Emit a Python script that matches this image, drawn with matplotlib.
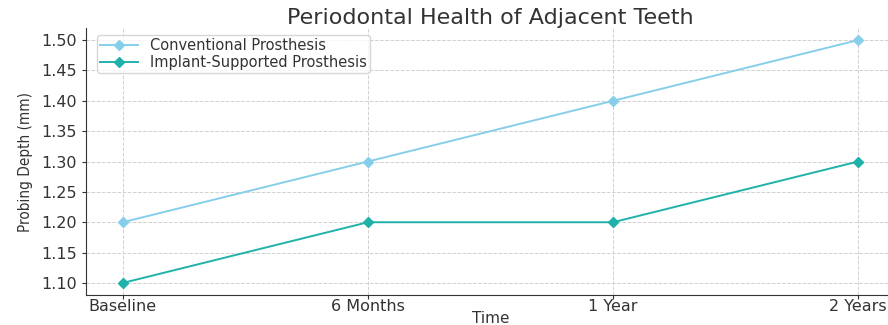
import matplotlib
matplotlib.use("Agg")
import matplotlib.pyplot as plt

plt.rcParams['font.family'] = ['DejaVu Sans']

# data
time_points = ['Baseline', '6 Months', '1 Year', '2 Years']
conventional = [1.20, 1.30, 1.40, 1.50]
implant_supported = [1.10, 1.20, 1.20, 1.30]
y_ticks = [1.10, 1.15, 1.20, 1.25, 1.30, 1.35, 1.40, 1.45, 1.50]

fig = plt.figure(figsize=(8.88, 3.25), dpi=100)
ax = fig.add_axes([0.0968, 0.092, 0.911, 0.822])

ax.plot(time_points, conventional, marker='D', markersize=5.5, linewidth=1.4,
        color='skyblue', label='Conventional Prosthesis')
ax.plot(time_points, implant_supported, marker='D', markersize=5.5, linewidth=1.4,
        color='lightseagreen', label='Implant-Supported Prosthesis')

ax.set_yticks(y_ticks)
ax.set_yticklabels([f'{v:.2f}' for v in y_ticks])
ax.tick_params(axis='both', labelsize=11.5, colors='#333333', length=3)
ax.tick_params(axis='x', pad=0)

ax.grid(True, linestyle='--', color='#d0d0d0', linewidth=0.7)
ax.spines['top'].set_visible(False)
ax.spines['right'].set_visible(False)
ax.spines['left'].set_color('#333333')
ax.spines['bottom'].set_color('#333333')

ax.set_title('Periodontal Health of Adjacent Teeth', fontsize=16, color='#333333', pad=2)
ax.set_xlabel('Time', fontsize=11, color='#333333')
ax.xaxis.set_label_coords(0.5, -0.058)
ax.set_ylabel('Probing Depth (mm)', fontsize=11, color='#333333',
              fontstretch='condensed', labelpad=6)

ax.legend(loc='upper left', fontsize=10.5, frameon=True, borderpad=0.2,
          labelspacing=0.1, handlelength=2.6, labelcolor='#333333',
          bbox_to_anchor=(0.005, 1.0))

fig.savefig('out.png', dpi=100)
